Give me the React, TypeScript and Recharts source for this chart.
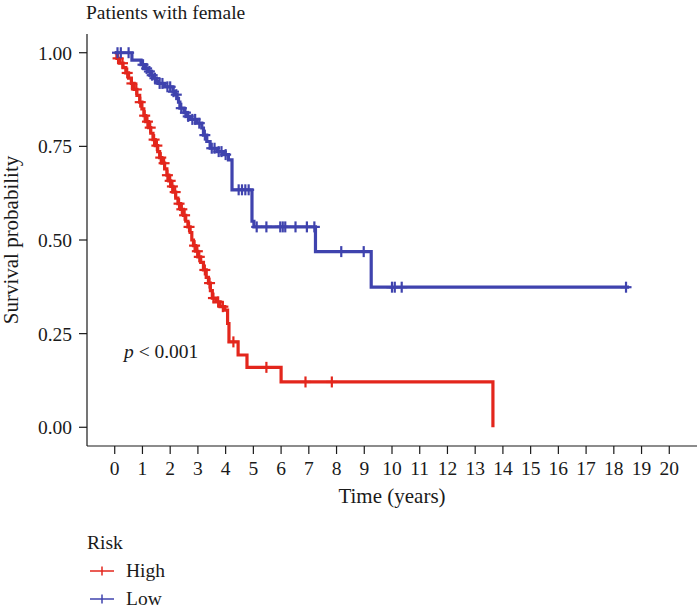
import React from "react";
import { ComposedChart, Line, XAxis, YAxis } from "recharts";

// Kaplan-Meier steps (time in years, survival probability)
const highStepTime = [0, 0.08, 0.18, 0.3, 0.4, 0.5, 0.6, 0.7, 0.8, 0.9, 0.98, 1.05, 1.12, 1.22, 1.3, 1.38, 1.46, 1.55, 1.62, 1.7, 1.8, 1.88, 1.95, 2.02, 2.1, 2.2, 2.28, 2.38, 2.48, 2.56, 2.64, 2.72, 2.78, 2.84, 2.92, 3.0, 3.1, 3.2, 3.3, 3.38, 3.45, 3.52, 3.65, 3.8, 3.97, 4.07, 4.12, 4.45, 4.77, 6.0, 13.64];
const highStepSurv = [1.0, 0.985, 0.972, 0.96, 0.946, 0.932, 0.918, 0.902, 0.886, 0.868, 0.85, 0.832, 0.816, 0.8, 0.785, 0.768, 0.752, 0.736, 0.72, 0.705, 0.69, 0.673, 0.658, 0.643, 0.628, 0.612, 0.597, 0.582, 0.566, 0.55, 0.535, 0.52, 0.5, 0.485, 0.47, 0.455, 0.44, 0.42, 0.4, 0.385, 0.365, 0.345, 0.335, 0.322, 0.313, 0.277, 0.228, 0.193, 0.16, 0.121, 0.0];
const highCensorTime = [0.12, 0.28, 0.45, 0.62, 0.78, 0.92, 1.08, 1.18, 1.28, 1.42, 1.52, 1.66, 1.78, 1.9, 2.0, 2.08, 2.18, 2.32, 2.42, 2.52, 2.68, 2.88, 2.98, 3.05, 3.25, 3.42, 3.56, 3.73, 3.9, 4.28, 5.47, 6.88, 7.83];

const lowStepTime = [0, 0.62, 0.95, 1.1, 1.2, 1.3, 1.38, 1.5, 1.56, 1.8, 2.1, 2.17, 2.25, 2.3, 2.35, 2.5, 2.6, 2.72, 2.96, 3.14, 3.2, 3.32, 3.44, 3.69, 3.92, 4.1, 4.23, 4.95, 5.02, 7.24, 9.25, 18.55];
const lowStepSurv = [1.0, 0.98, 0.968, 0.958, 0.95, 0.94, 0.932, 0.924, 0.918, 0.909, 0.896, 0.888, 0.878, 0.868, 0.852, 0.84, 0.83, 0.822, 0.812, 0.799, 0.78, 0.763, 0.745, 0.736, 0.728, 0.714, 0.634, 0.55, 0.535, 0.469, 0.374, 0.374];
const lowCensorTime = [0.1, 0.22, 0.5, 1.02, 1.15, 1.25, 1.35, 1.45, 1.62, 1.72, 1.9, 2.0, 2.12, 2.22, 2.4, 2.55, 2.65, 2.8, 2.9, 3.05, 3.25, 3.5, 3.6, 3.75, 3.85, 4.0, 4.47, 4.59, 4.71, 4.83, 5.12, 5.47, 5.97, 6.06, 6.15, 6.52, 6.93, 7.2, 8.17, 8.98, 10.0, 10.1, 10.35, 18.44];

const xTicks = [0, 1, 2, 3, 4, 5, 6, 7, 8, 9, 10, 11, 12, 13, 14, 15, 16, 17, 18, 19, 20];
const yTicks = [0, 0.25, 0.5, 0.75, 1];

const RED = "#E3261C";
const BLUE = "#3F43AE";
const FONT = "'Liberation Serif', 'Times New Roman', serif";
const INK = "#1a1a1a";

interface Pt {
    t: number;
    s: number;
    c: boolean;
}

function buildSeries(times: number[], surv: number[], censors: number[]): Pt[] {
    const pts: Pt[] = times.map((t, i) => ({ t, s: surv[i], c: false }));
    censors.forEach((t) => {
        let s = surv[0];
        times.forEach((tt, i) => {
            if (tt <= t) s = surv[i];
        });
        pts.push({ t, s, c: true });
    });
    return pts.sort((a, b) => a.t - b.t || (a.c ? 1 : -1));
}

const highData = buildSeries(highStepTime, highStepSurv, highCensorTime);
const lowData = buildSeries(lowStepTime, lowStepSurv, lowCensorTime);

const censorDot = (color: string) => (props: any) => {
    const { cx, cy, payload, index } = props;
    if (!payload || !payload.c) return <g key={`n-${index}`} />;
    return (
        <g key={`c-${index}`}>
            <line x1={cx - 5.5} x2={cx + 5.5} y1={cy} y2={cy} stroke={color} strokeWidth={2.2} />
            <line x1={cx} x2={cx} y1={cy - 5.5} y2={cy + 5.5} stroke={color} strokeWidth={2.2} />
        </g>
    );
};

const YLabel = (props: any) => {
    const vb = props.viewBox || { y: 34, height: 412 };
    const cy = vb.y + vb.height / 2;
    return (
        <text x={18} y={cy} transform={`rotate(-90, 18, ${cy})`} textAnchor="middle"
            fontFamily={FONT} fontSize={21} fill={INK}>
            Survival probability
        </text>
    );
};

const LegendKey = ({ color }: { color: string }) => (
    <svg width={24} height={12} style={{ marginRight: 12 }}>
        <line x1={0} x2={24} y1={6} y2={6} stroke={color} strokeWidth={1.5} />
        <line x1={12} x2={12} y1={1.5} y2={10.5} stroke={color} strokeWidth={1.5} />
    </svg>
);

export default function App() {
    const tick = { fontFamily: FONT, fontSize: 19.5, fill: INK };
    return (
        <div style={{ position: "absolute", left: 0, top: 0, width: 697, height: 610, background: "#fff", fontFamily: FONT, color: INK }}>
            <ComposedChart width={697} height={610} margin={{ top: 34, right: 0, bottom: 104, left: 0 }}>
                <XAxis
                    dataKey="t"
                    type="number"
                    domain={[-1, 21]}
                    ticks={xTicks}
                    interval={0}
                    allowDataOverflow
                    height={60}
                    tickSize={8}
                    tickMargin={7}
                    tick={tick}
                    stroke={INK}
                    axisLine={{ stroke: INK, strokeWidth: 1.2 }}
                    tickLine={{ stroke: INK, strokeWidth: 1.2 }}
                    label={{ value: "Time (years)", position: "insideBottom", offset: 3, style: { fontFamily: FONT, fontSize: 21, fill: INK } }}
                />
                <YAxis
                    type="number"
                    domain={[-0.05, 1.05]}
                    ticks={yTicks}
                    interval={0}
                    allowDataOverflow
                    width={87}
                    tickSize={8}
                    tickMargin={7}
                    tick={tick}
                    tickFormatter={(v: number) => v.toFixed(2)}
                    stroke={INK}
                    axisLine={{ stroke: INK, strokeWidth: 1.2 }}
                    tickLine={{ stroke: INK, strokeWidth: 1.2 }}
                    label={<YLabel />}
                />
                <Line
                    data={highData}
                    dataKey="s"
                    type="stepAfter"
                    stroke={RED}
                    strokeWidth={3.2}
                    dot={censorDot(RED)}
                    activeDot={false}
                    isAnimationActive={false}
                />
                <Line
                    data={lowData}
                    dataKey="s"
                    type="stepAfter"
                    stroke={BLUE}
                    strokeWidth={3.2}
                    dot={censorDot(BLUE)}
                    activeDot={false}
                    isAnimationActive={false}
                />
            </ComposedChart>

            <div style={{ position: "absolute", left: 86, top: 0, fontSize: 19.5, lineHeight: "26px" }}>
                Patients with female
            </div>
            <div style={{ position: "absolute", left: 124, top: 340, fontSize: 19.5, lineHeight: "24px" }}>
                <i>p</i> &lt; 0.001
            </div>
            <div style={{ position: "absolute", left: 87, top: 529, fontSize: 19.5, lineHeight: "28px" }}>
                <div>Risk</div>
                <div style={{ display: "flex", alignItems: "center", marginLeft: 3 }}>
                    <LegendKey color={RED} />
                    <span>High</span>
                </div>
                <div style={{ display: "flex", alignItems: "center", marginLeft: 3 }}>
                    <LegendKey color={BLUE} />
                    <span>Low</span>
                </div>
            </div>
        </div>
    );
}
